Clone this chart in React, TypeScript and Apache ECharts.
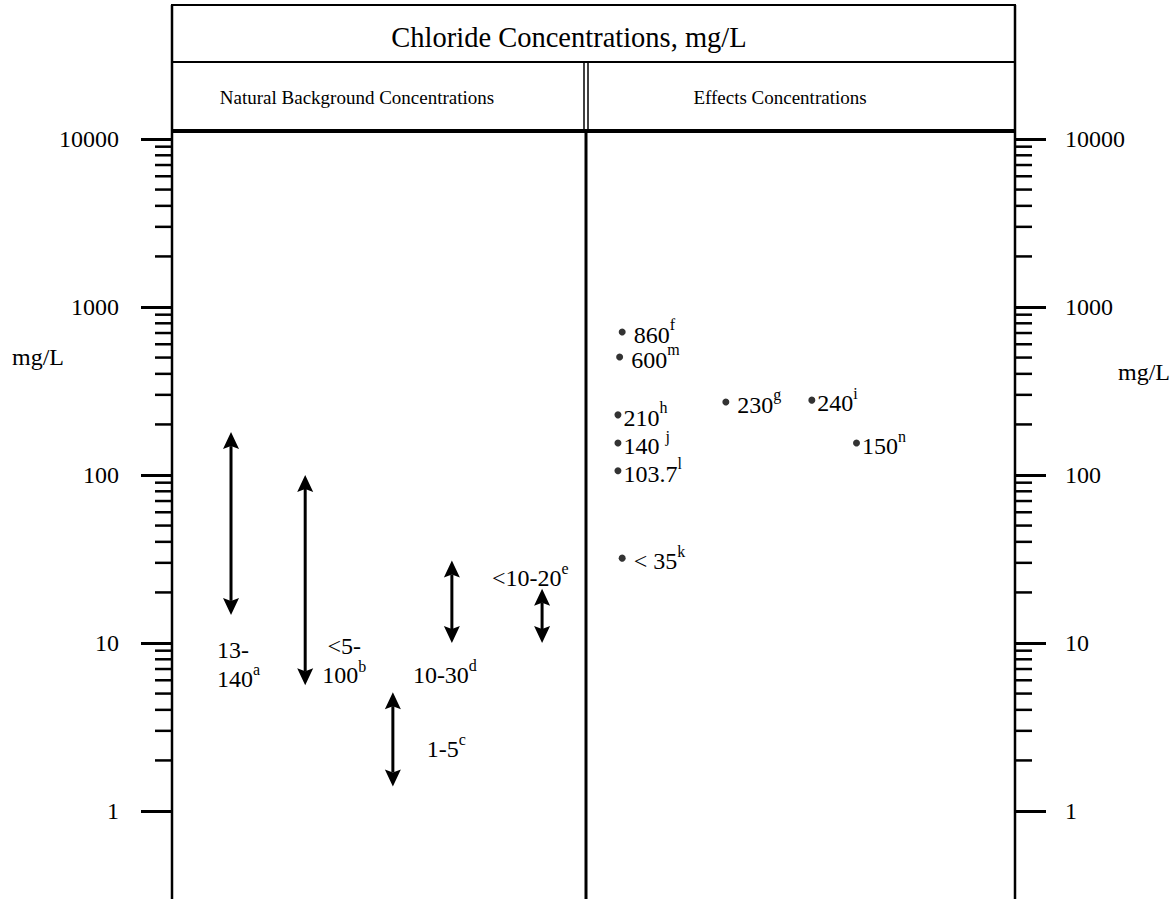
import { useEffect, useRef } from "react";
import * as echarts from "echarts";

// ---- data ----
const titleText = "Chloride Concentrations, mg/L";
const panelTitles = ["Natural Background Concentrations", "Effects Concentrations"];
const unitLabel = "mg/L";

// Natural background ranges (double-headed arrows)
const arrowX = [7.0, 15.8, 26.2, 33.2, 43.9];
const arrowLow = [14.7, 5.6, 1.4, 10, 10];
const arrowHigh = [180, 100, 5.1, 31, 21];
const arrowLabelLines = [["13-", "140"], ["<5-", "100"], ["1-5"], ["10-30"], ["<10-20"]];
const arrowSources = ["a", "b", "c", "d", "e"];

// Effects concentrations (points)
const effectX = [53.4, 53.1, 65.7, 75.9, 52.9, 52.9, 81.2, 52.9, 53.4];
const effectValues = [710, 504, 272, 279, 228, 155, 155, 106, 32];
const effectLabels = [" 860", " 600", " 230", "240", "210", "140 ", "150", "103.7", " < 35"];
const effectSources = ["f", "m", "g", "i", "h", "j", "n", "l", "k"];

// axis structure
const decades = [1, 10, 100, 1000];
const minorSteps = [2, 3, 4, 5, 6, 7, 8, 9];

// ---- layout / style (pixels) ----
const FONT = "'Liberation Serif', 'Times New Roman', 'DejaVu Serif', serif";
const GRID = { left: 172, right: 161, top: 139, bottom: 88 };
const arrowLabelOffsets = [
  { dx: -14, dy: 47, align: "left" },
  { dx: 39, dy: -27, align: "center" },
  { dx: 34, dy: -40, align: "left" },
  { dx: -39, dy: 29, align: "left" },
  { dx: -50, dy: -68, align: "left" },
];

export default function App() {
  const ref = useRef<HTMLDivElement>(null);

  useEffect(() => {
    if (!ref.current) return;
    const chart = echarts.init(ref.current, null, { renderer: "svg" });

    const minorTicks: number[][] = [];
    decades.forEach((d) => minorSteps.forEach((s) => minorTicks.push([0, s * d])));

    const arrowData = arrowX.map((x, i) => [x, arrowLow[i], arrowHigh[i]]);
    const effectData = effectX.map((x, i) => [x, effectValues[i]]);

    const arrowRich = {
      n: { fontFamily: FONT, fontSize: 24, color: "#000", lineHeight: 29, verticalAlign: "bottom" },
      s: { fontFamily: FONT, fontSize: 16, color: "#000", lineHeight: 10, verticalAlign: "top" },
    };

    const line = (x1: number, y1: number, x2: number, y2: number, w: number) => ({
      type: "line",
      shape: { x1, y1, x2, y2 },
      style: { stroke: "#000", lineWidth: w },
      z: 100,
    });

    const txt = (x: number, y: number, text: string, size: number, align: string) => ({
      type: "text",
      x,
      y,
      style: { text, fontFamily: FONT, fontSize: size, fill: "#000", align, verticalAlign: "middle" },
      z: 100,
    });

    const option: any = {
      animation: false,
      backgroundColor: "#fff",
      textStyle: { fontFamily: FONT, color: "#000" },
      grid: { ...GRID },
      xAxis: { type: "value", min: 0, max: 100, show: false },
      yAxis: [0, 1].map((k) => ({
        type: "log",
        logBase: 10,
        min: 1,
        max: 10000,
        position: k === 0 ? "left" : "right",
        axisLine: { show: false },
        axisTick: { show: true, length: 31, lineStyle: { color: "#000", width: 3 } },
        splitLine: { show: false },
        axisLabel: {
          color: "#000",
          fontFamily: FONT,
          fontSize: 24,
          margin: k === 0 ? 53 : 50,
          formatter: (v: number) => String(v),
        },
      })),
      graphic: [
        {
          type: "rect",
          shape: { x: 172, y: 5, width: 843, height: 57 },
          style: { fill: "none", stroke: "#000", lineWidth: 2 },
          z: 100,
        },
        line(172, 5, 172, 899, 2.5),
        line(1015, 5, 1015, 899, 2.5),
        line(172, 131, 1015, 131, 4),
        line(584, 62, 584, 131, 1.5),
        line(588, 62, 588, 131, 1.5),
        line(586, 131, 586, 899, 3),
        txt(569, 37, titleText, 28.5, "center"),
        txt(357, 97, panelTitles[0], 19, "center"),
        txt(780, 97, panelTitles[1], 19, "center"),
        txt(12, 357, unitLabel, 24, "left"),
        txt(1118, 372, unitLabel, 24, "left"),
      ],
      series: [
        {
          type: "custom",
          name: "minor ticks",
          data: minorTicks,
          encode: { x: 0, y: 1 },
          silent: true,
          renderItem: (params: any, api: any) => {
            const y = api.coord([0, api.value(1)])[1];
            const cs = params.coordSys;
            return {
              type: "group",
              children: [
                { type: "line", shape: { x1: cs.x - 17, y1: y, x2: cs.x, y2: y }, style: { stroke: "#000", lineWidth: 2.5 } },
                {
                  type: "line",
                  shape: { x1: cs.x + cs.width, y1: y, x2: cs.x + cs.width + 17, y2: y },
                  style: { stroke: "#000", lineWidth: 2.5 },
                },
              ],
            };
          },
        },
        {
          type: "custom",
          name: "Natural Background Concentrations",
          data: arrowData,
          encode: { x: 0, y: [1, 2] },
          clip: false,
          renderItem: (params: any, api: any) => {
            const x = api.value(0);
            const top = api.coord([x, api.value(2)]);
            const bot = api.coord([x, api.value(1)]);
            const hw = 8;
            const hl = 17;
            const notch = 14;
            const i = params.dataIndex;
            const off = arrowLabelOffsets[i];
            const lines = arrowLabelLines[i];
            const text = lines
              .map((t, k) => (k === lines.length - 1 ? `{n|${t}}{s|${arrowSources[i]}}` : `{n|${t}}`))
              .join("\n");
            return {
              type: "group",
              children: [
                {
                  type: "line",
                  shape: { x1: top[0], y1: top[1] + notch, x2: bot[0], y2: bot[1] - notch },
                  style: { stroke: "#000", lineWidth: 3 },
                },
                {
                  type: "polygon",
                  shape: {
                    points: [
                      [top[0], top[1]],
                      [top[0] + hw, top[1] + hl],
                      [top[0], top[1] + notch],
                      [top[0] - hw, top[1] + hl],
                    ],
                  },
                  style: { fill: "#000" },
                },
                {
                  type: "polygon",
                  shape: {
                    points: [
                      [bot[0], bot[1]],
                      [bot[0] + hw, bot[1] - hl],
                      [bot[0], bot[1] - notch],
                      [bot[0] - hw, bot[1] - hl],
                    ],
                  },
                  style: { fill: "#000" },
                },
                {
                  type: "text",
                  x: bot[0] + off.dx,
                  y: bot[1] + off.dy,
                  style: {
                    text,
                    rich: arrowRich,
                    fontFamily: FONT,
                    fontSize: 24,
                    fill: "#000",
                    align: off.align,
                    verticalAlign: "middle",
                  },
                },
              ],
            };
          },
        },
        {
          type: "scatter",
          name: "Effects Concentrations",
          data: effectData,
          symbol: "circle",
          symbolSize: 7,
          itemStyle: { color: "#000" },
          emphasis: { disabled: true },
          label: {
            show: true,
            position: "right",
            distance: 2,
            color: "#000",
            opacity: 1,
            textBorderWidth: 0,
            fontFamily: FONT,
            fontSize: 24,
            formatter: (p: any) => `{n|${effectLabels[p.dataIndex]}}{s|${effectSources[p.dataIndex]}}`,
            rich: {
              n: {
                fontFamily: FONT,
                fontSize: 24,
                color: "#000",
                textBorderWidth: 0,
                lineHeight: 30,
                verticalAlign: "bottom",
              },
              s: {
                fontFamily: FONT,
                fontSize: 16,
                color: "#000",
                textBorderWidth: 0,
                lineHeight: 14,
                verticalAlign: "top",
              },
            },
          },
        },
      ],
    };

    chart.setOption(option);
    return () => chart.dispose();
  }, []);

  return <div ref={ref} style={{ position: "absolute", left: 0, top: 0, width: 1176, height: 899 }} />;
}
